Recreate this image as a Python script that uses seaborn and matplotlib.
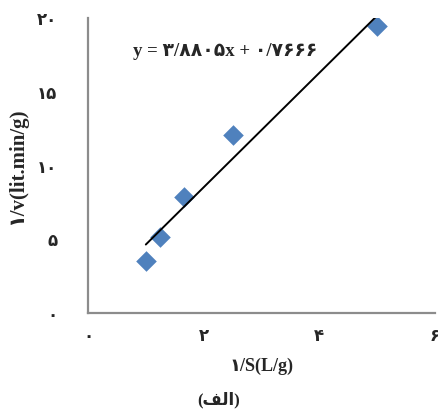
import numpy as np
import pandas as pd
import matplotlib
matplotlib.use("Agg")
import matplotlib.pyplot as plt
import seaborn as sns

# Lineweaver-Burk data: 1/S against 1/v
inv_s = [1.0, 1.25, 1.667, 2.5, 5.0]
inv_v = [3.55, 5.15, 7.85, 12.05, 19.45]

# linear trendline coefficients
slope = 3.8805
intercept = 0.7666

x_ticks = [0, 2, 4, 6]
y_ticks = [0, 5, 10, 15, 20]

x_label = "۱/S(L/g)"
y_label = "۱/v(lit.min/g)"
caption = "(" + "\uFED2\uFEDF\uFE8D" + ")"

FA_DIGITS = str.maketrans("0123456789.", "۰۱۲۳۴۵۶۷۸۹/")


def fa(value):
    return str(value).translate(FA_DIGITS)


sns.set_style("white")
plt.rcParams["font.family"] = ["Liberation Serif", "DejaVu Sans"]
plt.rcParams["font.weight"] = "bold"

fig = plt.figure(figsize=(4.39, 4.14), dpi=100)
ax = fig.add_axes([0.2005, 0.2415, 0.79, 0.712])

df = pd.DataFrame({"x": inv_s, "y": inv_v})
sns.scatterplot(data=df, x="x", y="y", marker="D", s=110, color="#4F81BD",
                edgecolor="#4F81BD", linewidth=0, ax=ax, zorder=2)

line_x = np.array([min(inv_s), max(inv_s)])
line_df = pd.DataFrame({"x": line_x, "y": slope * line_x + intercept})
sns.lineplot(data=line_df, x="x", y="y", color="black", linewidth=1.4,
             ax=ax, zorder=3)

ax.set_xlim(x_ticks[0], x_ticks[-1])
ax.set_ylim(y_ticks[0], y_ticks[-1])
ax.set_xticks(x_ticks)
ax.set_yticks(y_ticks)
ax.set_xticklabels([fa(t) for t in x_ticks], fontsize=12, fontweight="bold")
ax.set_yticklabels([fa(t) for t in y_ticks], fontsize=12, fontweight="bold")
ax.tick_params(axis="x", length=0, pad=11)
ax.tick_params(axis="y", length=0, pad=22)

for side in ("top", "right"):
    ax.spines[side].set_visible(False)
for side in ("left", "bottom"):
    ax.spines[side].set_color("#8c8c8c")
    ax.spines[side].set_linewidth(1.6)

ax.set_xlabel(x_label, fontsize=13, fontweight="bold", labelpad=9)
ax.set_ylabel(y_label, fontsize=15, fontweight="bold", labelpad=8)
ax.yaxis.set_label_coords(-0.175, 0.5)

eq = "y = " + fa(f"{slope:.4f}") + "x + " + fa(f"{intercept:.4f}")
ax.text(0.78, 17.8, eq, fontsize=13.5, fontweight="bold", va="center", ha="left")

fig.text(219 / 439, 1 - 400 / 414, caption, fontsize=12, fontweight="bold",
         ha="center", va="center")

fig.savefig("out.png", dpi=100)
